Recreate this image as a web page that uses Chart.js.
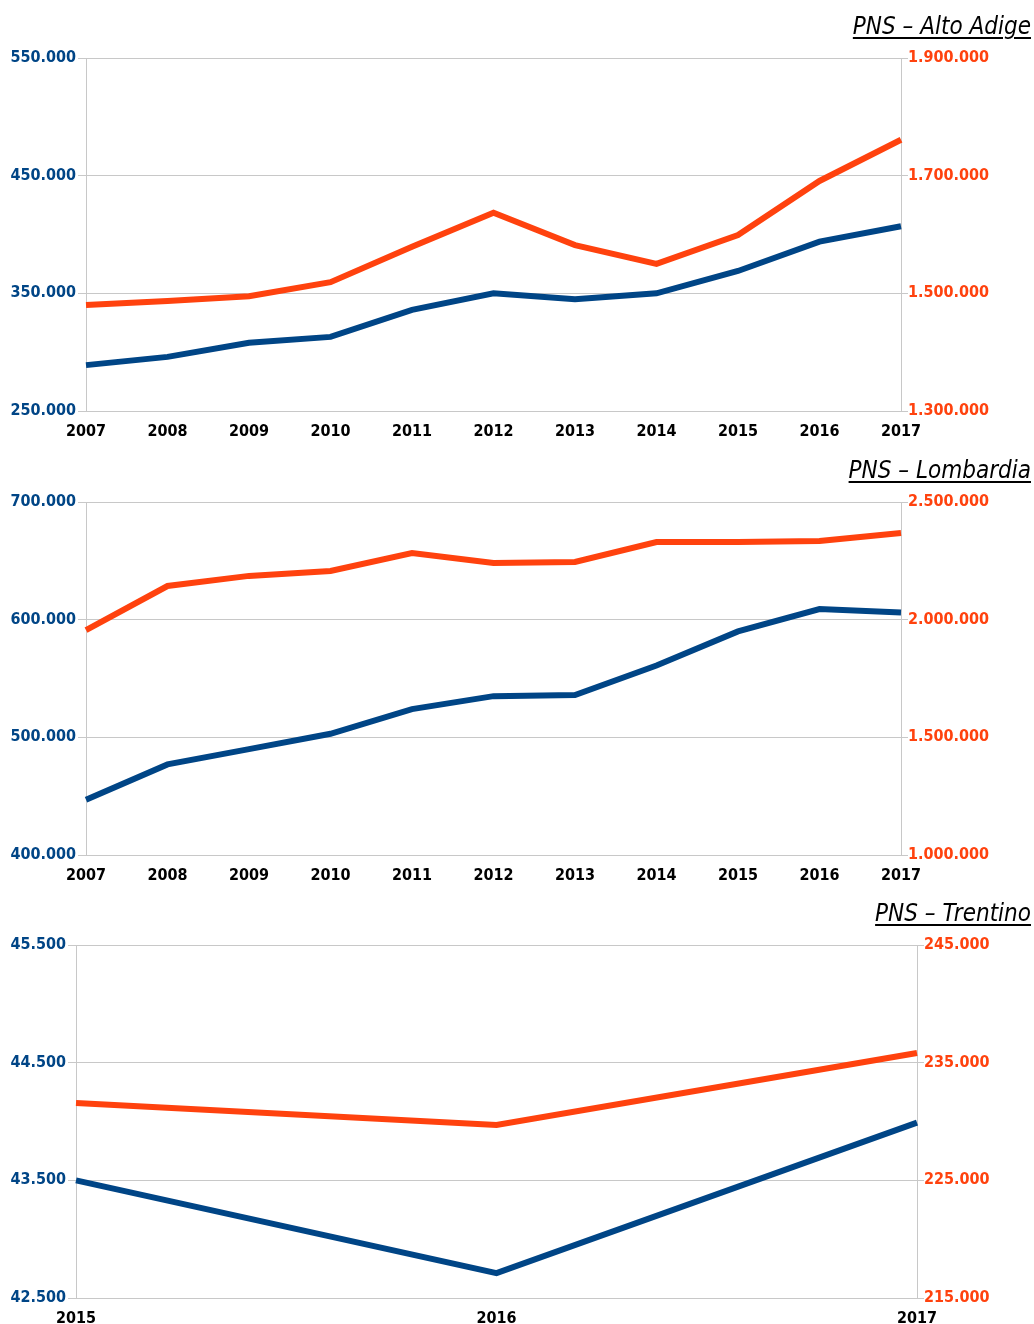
<!DOCTYPE html>
<html>
<head>
<meta charset="utf-8">
<script src="https://cdn.jsdelivr.net/npm/chart.js@4.4.0/dist/chart.umd.min.js"></script>
<style>
  body { margin: 0; background: #fff; width: 1034px; height: 1324px; position: relative; overflow: hidden; }
  .box { position: absolute; left: 0; width: 1034px; }
  .title {
    position: absolute; right: 3px;
    font-family: "DejaVu Sans Condensed", "DejaVu Sans", sans-serif;
    font-style: italic; font-size: 24px; color: #000;
    text-decoration: underline; text-underline-offset: 3px; text-decoration-thickness: 2px;
    white-space: nowrap;
  }
</style>
</head>
<body>
<div class="box" style="top:0;height:445px"><canvas id="c1"></canvas></div>
<div class="box" style="top:445px;height:445px"><canvas id="c2"></canvas></div>
<div class="box" style="top:890px;height:434px"><canvas id="c3"></canvas></div>
<div class="title" style="top:12px">PNS – Alto Adige</div>
<div class="title" style="top:456px">PNS – Lombardia</div>
<div class="title" style="top:899px">PNS – Trentino</div>
<script>
// Alto Adige
const yearsA = ['2007', '2008', '2009', '2010', '2011', '2012', '2013', '2014', '2015', '2016', '2017'];
const altoBlue = [289000, 296000, 308000, 313000, 336000, 350000, 345000, 350000, 369000, 394000, 407000];
const altoOrange = [1480000, 1487000, 1495000, 1519000, 1579000, 1637000, 1582000, 1550000, 1599000, 1691000, 1761000];

// Lombardia
const lombBlue = [447000, 477000, 490000, 503000, 524000, 535000, 536000, 561000, 590000, 609000, 606000];
const lombOrange = [1956000, 2143000, 2186000, 2207000, 2283000, 2241000, 2245000, 2330000, 2330000, 2334000, 2368000];

// Trentino
const yearsT = ['2015', '2016', '2017'];
const trenBlue = [43500, 42712, 43990];
const trenOrange = [231570, 229700, 235820];

const BLUE = '#004586';
const ORANGE = '#ff420e';
const GRID = '#c8c8c8';
const FONT = { family: '"DejaVu Sans Condensed", "DejaVu Sans", sans-serif', size: 16, weight: 'bold' };

function fmt(v) {
    return String(Math.round(v)).replace(/\B(?=(\d{3})+(?!\d))/g, '.');
}

function makeChart(id, labels, blue, orange, lim, plot) {
    const ctx = document.getElementById(id).getContext('2d');
    return new Chart(ctx, {
        type: 'line',
        data: {
            labels: labels,
            datasets: [{
                data: blue, yAxisID: 'yL',
                borderColor: BLUE, borderWidth: 6, pointRadius: 0, tension: 0
            }, {
                data: orange, yAxisID: 'yR',
                borderColor: ORANGE, borderWidth: 6, pointRadius: 0, tension: 0
            }]
        },
        options: {
            responsive: true,
            maintainAspectRatio: false,
            animation: false,
            layout: { padding: { top: plot.top, left: 0, right: 0, bottom: 0 } },
            plugins: { legend: { display: false }, tooltip: { enabled: false } },
            scales: {
                x: {
                    offset: false,
                    grid: { display: false },
                    border: { display: false },
                    ticks: { color: '#000', font: FONT, padding: 3, maxRotation: 0, autoSkip: false },
                    afterFit: s => { s.height = plot.bottom; }
                },
                yL: {
                    position: 'left',
                    min: lim.lMin, max: lim.lMax,
                    grid: { color: GRID, lineWidth: 1, tickLength: 8 },
                    border: { color: GRID },
                    ticks: { stepSize: lim.lStep, color: BLUE, font: FONT, padding: 2, callback: v => fmt(v) },
                    afterFit: s => { s.width = plot.left; }
                },
                yR: {
                    position: 'right',
                    min: lim.rMin, max: lim.rMax,
                    grid: { drawOnChartArea: false, color: GRID, tickLength: 7 },
                    border: { color: GRID },
                    ticks: { stepSize: lim.rStep, color: ORANGE, font: FONT, padding: 0, callback: v => fmt(v) },
                    afterFit: s => { s.width = plot.right; }
                }
            }
        }
    });
}

makeChart('c1', yearsA, altoBlue, altoOrange,
    { lMin: 250000, lMax: 550000, lStep: 100000, rMin: 1300000, rMax: 1900000, rStep: 200000 },
    { top: 58, bottom: 34, left: 86, right: 133 });

makeChart('c2', yearsA, lombBlue, lombOrange,
    { lMin: 400000, lMax: 700000, lStep: 100000, rMin: 1000000, rMax: 2500000, rStep: 500000 },
    { top: 57, bottom: 35, left: 86, right: 133 });

makeChart('c3', yearsT, trenBlue, trenOrange,
    { lMin: 42500, lMax: 45500, lStep: 1000, rMin: 215000, rMax: 245000, rStep: 10000 },
    { top: 55, bottom: 26, left: 76, right: 117 });
</script>
</body>
</html>
